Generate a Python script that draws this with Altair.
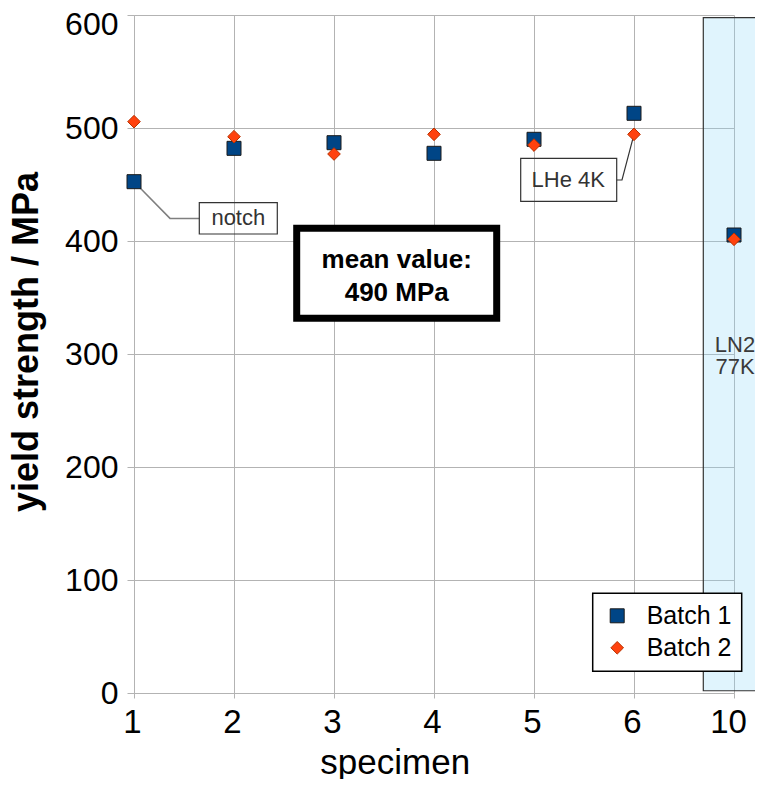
import json
import altair as alt
import pandas as pd

# ---------------- data ----------------
specimens = ["1", "2", "3", "4", "5", "6", "10"]
batch1 = [452.5, 482.0, 487.0, 477.6, 490.0, 513.0, 405.3]
batch2 = [505.6, 492.3, 477.0, 494.4, 484.9, 494.4, 401.5]
series = ["Batch 1", "Batch 2"]
y_ticks = [0, 100, 200, 300, 400, 500, 600]

# annotation texts
mean_lines = ["mean value:", "490 MPa"]
ln2_lines = ["LN2", "77K"]
notch_label = "notch"
lhe_label = "LHe 4K"

# annotation geometry in data units (x = position index of specimen, y = MPa)
ln2_box = {"x": 5.693, "x2": 6.9, "y": 2.0, "y2": 597.6}
ln2_text_x = 6.01
ln2_text_y = [302.0, 282.3]
mean_box = {"x": 1.627, "x2": 3.627, "y": 331.6, "y2": 411.2}
mean_text_x = 2.627
mean_text_y = [375.8, 346.9]
notch_box = {"x": 0.653, "x2": 1.433, "y": 406.2, "y2": 433.9}
notch_text = {"x": 1.043, "y": 414.2}
notch_path_x = [0.0, 0.36, 0.653]
notch_path_y = [452.5, 420.0, 420.0]
lhe_box = {"x": 3.867, "x2": 4.827, "y": 435.1, "y2": 473.2}
lhe_text = {"x": 4.343, "y": 447.5}
lhe_path_x = [4.827, 4.88, 5.0]
lhe_path_y = [454.0, 454.0, 494.4]

FONT = "Liberation Sans, Arial, Helvetica, sans-serif"
GRID = "#b3b3b3"

# ---------------- tables ----------------
rows = []
for s, vals in zip(series, [batch1, batch2]):
    for i, (sp, v) in enumerate(zip(specimens, vals)):
        rows.append({"idx": i, "specimen": sp, "batch": s, "value": v})
points_df = pd.DataFrame(rows)

x_scale = alt.Scale(domain=[0, len(specimens) - 1], nice=False, zero=False)
y_scale = alt.Scale(domain=[0, 600], nice=False, zero=True)

label_expr = json.dumps(specimens) + "[datum.value]"

x_axis = alt.Axis(
    values=list(range(len(specimens))),
    labelExpr=label_expr,
    grid=True, gridColor=GRID, gridWidth=1,
    domainColor=GRID, tickColor=GRID, tickSize=5,
    labelFont=FONT, labelFontSize=33, labelColor="black", labelPadding=8,
    labelFlush=False,
    labelOffset={"condition": {"test": "datum.value == 6", "value": -6}, "value": -2},
    title="specimen", titleFont=FONT, titleFontSize=35, titleFontWeight="normal",
    titleColor="black", titleX=260.7, titleY=80, titleAlign="center",
    titleBaseline="alphabetic",
)
y_axis = alt.Axis(
    values=y_ticks,
    grid=True, gridColor=GRID, gridWidth=1,
    domainColor=GRID, tickColor=GRID, tickSize=7,
    labelFont=FONT, labelFontSize=32, labelColor="black", labelPadding=9,
    labelOffset={"condition": {"test": "datum.value == 600", "value": 9}, "value": 0},
    title="yield strength / MPa", titleFont=FONT, titleFontSize=36,
    titleFontWeight="bold", titleColor="black", titleAngle=-90,
    titleX=-96.5, titleY=326.5, titleAlign="center", titleBaseline="alphabetic",
)


def X(field="x"):
    return alt.X(f"{field}:Q", scale=x_scale, axis=x_axis)


def Y(field="y"):
    return alt.Y(f"{field}:Q", scale=y_scale, axis=y_axis)


def box_df(b):
    return pd.DataFrame([b])


# LN2 region
ln2_rect = alt.Chart(box_df(ln2_box)).mark_rect(
    fill="#8fd8f8", fillOpacity=0.28, stroke="#333333", strokeOpacity=1, strokeWidth=1.2
).encode(x=X(), x2="x2:Q", y=Y(), y2="y2:Q")

ln2_txt = alt.Chart(pd.DataFrame({"x": [ln2_text_x] * 2, "y": ln2_text_y, "t": ln2_lines})).mark_text(
    font=FONT, fontSize=22, color="#3a3a3a", baseline="alphabetic", align="center"
).encode(x=X(), y=Y(), text="t:N")

# mean value box
mean_rect = alt.Chart(box_df(mean_box)).mark_rect(
    fill="white", stroke="black", strokeWidth=7
).encode(x=X(), x2="x2:Q", y=Y(), y2="y2:Q")

mean_txt = alt.Chart(pd.DataFrame({"x": [mean_text_x] * 2, "y": mean_text_y, "t": mean_lines})).mark_text(
    font=FONT, fontSize=26, fontWeight="bold", color="black", baseline="alphabetic", align="center"
).encode(x=X(), y=Y(), text="t:N")

# notch callout
notch_line = alt.Chart(pd.DataFrame({"x": notch_path_x, "y": notch_path_y, "o": [0, 1, 2]})).mark_line(
    color="#7f7f7f", strokeWidth=1.5
).encode(x=X(), y=Y(), order="o:Q")
notch_rect = alt.Chart(box_df(notch_box)).mark_rect(
    fillOpacity=0, stroke="#333333", strokeWidth=1.2
).encode(x=X(), x2="x2:Q", y=Y(), y2="y2:Q")
notch_txt = alt.Chart(pd.DataFrame([{**notch_text, "t": notch_label}])).mark_text(
    font=FONT, fontSize=22, color="#333333", baseline="alphabetic", align="center"
).encode(x=X(), y=Y(), text="t:N")

# LHe callout
lhe_line = alt.Chart(pd.DataFrame({"x": lhe_path_x, "y": lhe_path_y, "o": [0, 1, 2]})).mark_line(
    color="#333333", strokeWidth=1.2
).encode(x=X(), y=Y(), order="o:Q")
lhe_rect = alt.Chart(box_df(lhe_box)).mark_rect(
    fillOpacity=0, stroke="#333333", strokeWidth=1.2
).encode(x=X(), x2="x2:Q", y=Y(), y2="y2:Q")
lhe_txt = alt.Chart(pd.DataFrame([{**lhe_text, "t": lhe_label}])).mark_text(
    font=FONT, fontSize=22, color="#333333", baseline="alphabetic", align="center"
).encode(x=X(), y=Y(), text="t:N")

# data points
pts = alt.Chart(points_df).mark_point(filled=True, opacity=1, strokeWidth=1).encode(
    x=X("idx"),
    y=Y("value"),
    color=alt.Color("batch:N", scale=alt.Scale(domain=series, range=["#004586", "#ff420e"]),
                    legend=alt.Legend(title=None)),
    shape=alt.Shape("batch:N", scale=alt.Scale(domain=series, range=["square", "diamond"]),
                    legend=alt.Legend(title=None)),
    size=alt.Size("batch:N", scale=alt.Scale(domain=series, range=[196, 160]), legend=None),
    stroke=alt.Stroke("batch:N", scale=alt.Scale(domain=series, range=["#1a1a1a", "#b83200"]), legend=None),
)

chart = alt.layer(
    ln2_rect, ln2_txt, mean_rect, mean_txt,
    notch_line, notch_rect, notch_txt,
    lhe_line, lhe_rect, lhe_txt,
    pts,
).properties(
    width=600, height=678,
    autosize=alt.AutoSizeParams(type="none"),
    padding={"left": 126, "top": 7, "right": 21, "bottom": 86},
    background="white",
).configure_view(stroke=None).configure_legend(
    orient="none", legendX=458.7, legendY=578.3,
    strokeColor="black", fillColor="white", strokeWidth=1.5,
    padding=10, rowPadding=6, symbolSize=280, symbolOffset=2,
    symbolStrokeColor="#1a1a1a", symbolStrokeWidth=1,
    labelFont=FONT, labelFontSize=25, labelColor="black", labelOffset=17,
    cornerRadius=0,
)

chart.save("out.html", embed_options={"renderer": "svg", "actions": False})
